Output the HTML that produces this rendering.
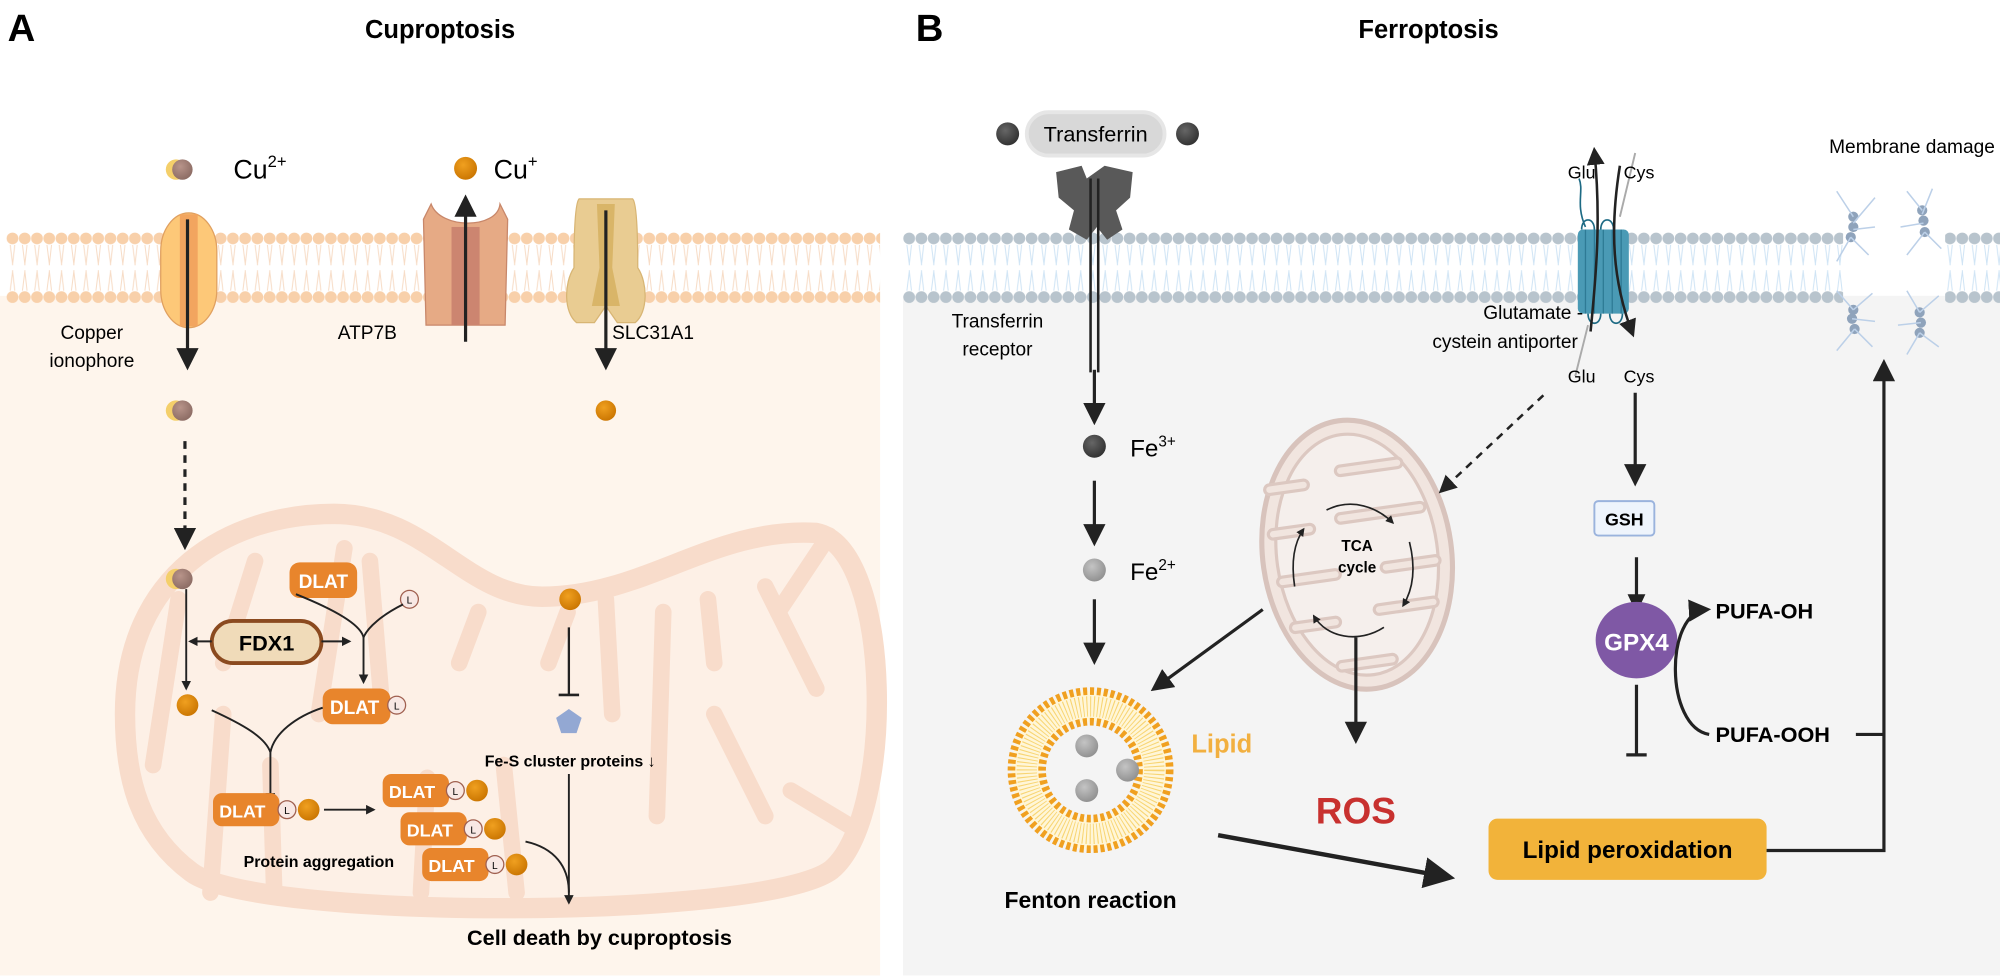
<!DOCTYPE html>
<html><head><meta charset="utf-8"><style>
html,body{margin:0;padding:0;background:#fff;}
svg{display:block;}
text{font-family:"Liberation Sans",sans-serif;}
</style></head><body>
<svg width="2000" height="978" viewBox="0 0 1568 767" preserveAspectRatio="none" xmlns="http://www.w3.org/2000/svg">
<defs>
<pattern id="memA" x="5" y="180" width="9.6" height="60" patternUnits="userSpaceOnUse">
<path d="M3,12 L5,28 M6.6,12 L4.8,28 M3,48 L5,32 M6.6,48 L4.8,32" stroke="#f7dcc6" stroke-width="0.8" fill="none"/>
<circle cx="4.8" cy="7" r="4.6" fill="#f8d0aa"/><circle cx="4.8" cy="53" r="4.6" fill="#f8d0aa"/>
</pattern>
<pattern id="memB" x="708" y="180" width="9.6" height="60" patternUnits="userSpaceOnUse">
<path d="M3,12 L5,28 M6.6,12 L4.8,28 M3,48 L5,32 M6.6,48 L4.8,32" stroke="#cfe4f5" stroke-width="0.8" fill="none"/>
<circle cx="4.8" cy="7" r="4.6" fill="#b8c4cd"/><circle cx="4.8" cy="53" r="4.6" fill="#b8c4cd"/>
</pattern>
<marker id="ah" viewBox="0 0 10 10" refX="8" refY="5" markerWidth="5" markerHeight="5" orient="auto-start-reverse"><path d="M0,0 L10,5 L0,10 z" fill="#222"/></marker>
<marker id="ahs" viewBox="0 0 10 10" refX="8" refY="5" markerWidth="7" markerHeight="7" orient="auto-start-reverse"><path d="M0,0 L10,5 L0,10 z" fill="#222"/></marker>
<radialGradient id="gOr" cx="0.4" cy="0.35" r="0.7"><stop offset="0" stop-color="#f0a020"/><stop offset="1" stop-color="#c97400"/></radialGradient>
<radialGradient id="gBr" cx="0.4" cy="0.35" r="0.7"><stop offset="0" stop-color="#b8948a"/><stop offset="1" stop-color="#8a6a62"/></radialGradient>
<radialGradient id="gDk" cx="0.4" cy="0.35" r="0.7"><stop offset="0" stop-color="#666"/><stop offset="1" stop-color="#2f2f2f"/></radialGradient>
<radialGradient id="gLt" cx="0.4" cy="0.35" r="0.7"><stop offset="0" stop-color="#c4c4c4"/><stop offset="1" stop-color="#8e8e8e"/></radialGradient>
</defs>

<rect x="0" y="232" width="690" height="533" fill="#fef5ec"/>
<rect x="708" y="232" width="860" height="533" fill="#f4f4f4"/>
<rect x="5" y="180" width="685" height="60" fill="url(#memA)"/>
<rect x="708" y="180" width="737" height="60" fill="url(#memB)"/>
<rect x="1525" y="180" width="43" height="60" fill="url(#memB)"/>

<text x="6" y="32" font-size="30" font-weight="bold">A</text>
<text x="345" y="30" font-size="20" font-weight="bold" text-anchor="middle">Cuproptosis</text>
<text x="718" y="32" font-size="30" font-weight="bold">B</text>
<text x="1120" y="30" font-size="20" font-weight="bold" text-anchor="middle">Ferroptosis</text>

<!-- ===== Panel A ===== -->
<g fill="none" stroke="#f8dccb" stroke-linecap="round">
<path d="M98,560 C98,450 180,403 262,403 C335,403 365,468 425,468 C505,468 560,413 640,418 C700,430 702,640 652,682 C600,722 200,722 150,684 C110,654 98,612 98,560 Z" stroke-width="16" fill="#fdf0e6"/>
<g stroke-width="13">
<path d="M120,600 L140,470"/><path d="M165,700 L175,560 M175,520 L200,440"/><path d="M215,700 L212,600"/>
<path d="M250,560 L270,430 M290,440 L300,560"/><path d="M330,700 L335,610"/><path d="M360,520 L375,480"/>
<path d="M405,700 L395,600"/><path d="M430,520 L445,480 M475,470 L480,560"/><path d="M520,480 L515,640"/>
<path d="M555,470 L560,520 M600,460 L640,540"/><path d="M650,420 L610,480"/><path d="M560,560 L600,640"/><path d="M620,620 L670,650"/>
</g></g>

<rect x="126" y="167" width="44" height="90" rx="22" ry="30" fill="#fdc878" stroke="#e0a060" stroke-width="1"/>
<rect x="141" y="168" width="14" height="88" fill="#f2a55f"/>
<path d="M332,172 L338,160 C345,180 390,180 392,160 L398,172 L396,255 L334,255 Z" fill="#e6aa85" stroke="#c8876a" stroke-width="1"/>
<rect x="354" y="178" width="22" height="77" fill="#cc8570"/>
<path d="M454,156 L496,156 C500,160 500,200 500,210 C508,222 508,245 498,253 L484,253 L475,240 L466,253 L452,253 C442,245 442,222 450,210 C450,200 450,160 454,156 Z" fill="#e9cc92" stroke="#d8b574" stroke-width="1"/>
<path d="M468,160 L482,160 L480,210 L486,240 L464,240 L470,210 Z" fill="#d4af5e" opacity="0.8"/>

<line x1="147" y1="172" x2="147" y2="287" stroke="#222" stroke-width="2.5" marker-end="url(#ahs)"/>
<line x1="365" y1="268" x2="365" y2="156" stroke="#222" stroke-width="2.5" marker-end="url(#ahs)"/>
<line x1="475" y1="165" x2="475" y2="287" stroke="#222" stroke-width="2.5" marker-end="url(#ahs)"/>

<circle cx="138" cy="133" r="8" fill="#f4cf6a"/><circle cx="143" cy="133" r="8" fill="url(#gBr)"/>
<text x="183" y="140" font-size="21">Cu<tspan font-size="13" dy="-9">2+</tspan></text>
<circle cx="365" cy="132" r="9" fill="url(#gOr)"/>
<text x="387" y="140" font-size="21">Cu<tspan font-size="13" dy="-9">+</tspan></text>
<text x="72" y="266" font-size="15" text-anchor="middle">Copper</text>
<text x="72" y="288" font-size="15" text-anchor="middle">ionophore</text>
<text x="288" y="266" font-size="15" text-anchor="middle">ATP7B</text>
<text x="512" y="266" font-size="15" text-anchor="middle">SLC31A1</text>

<circle cx="138" cy="322" r="8" fill="#f4cf6a"/><circle cx="143" cy="322" r="8" fill="url(#gBr)"/>
<circle cx="475" cy="322" r="8" fill="url(#gOr)"/>
<line x1="145" y1="346" x2="145" y2="428" stroke="#222" stroke-width="2.5" stroke-dasharray="6,5" marker-end="url(#ahs)"/>

<circle cx="138" cy="454" r="8" fill="#f4cf6a"/><circle cx="143" cy="454" r="8" fill="url(#gBr)"/>
<rect x="227" y="441" width="53" height="28" rx="8" fill="#e8852c"/>
<text x="253.5" y="461" font-size="15" font-weight="bold" fill="#fff" text-anchor="middle">DLAT</text>
<circle cx="321" cy="470" r="7" fill="#f8e8e4" stroke="#a06050" stroke-width="1"/><text x="321" y="473.5" font-size="8" text-anchor="middle">L</text>
<line x1="146" y1="462" x2="146" y2="540" stroke="#222" stroke-width="1.5" marker-end="url(#ah)"/>
<rect x="166" y="487" width="86" height="33" rx="16.5" fill="#f0dbb9" stroke="#8b4a1f" stroke-width="3"/>
<text x="209" y="510" font-size="17" font-weight="bold" text-anchor="middle">FDX1</text>
<line x1="166" y1="503" x2="149" y2="503" stroke="#222" stroke-width="1.5" marker-end="url(#ah)"/>
<line x1="252" y1="503" x2="274" y2="503" stroke="#222" stroke-width="1.5" marker-end="url(#ah)"/>
<path d="M232,466 C262,478 283,490 285,500 M316,474 C300,482 288,492 285,500 L285,535" fill="none" stroke="#222" stroke-width="1.5" marker-end="url(#ah)"/>
<circle cx="147" cy="553" r="8.5" fill="url(#gOr)"/>
<rect x="253" y="540" width="53" height="28" rx="8" fill="#e8852c"/>
<text x="278" y="560" font-size="15" font-weight="bold" fill="#fff" text-anchor="middle">DLAT</text>
<circle cx="311" cy="553" r="7" fill="#f8e8e4" stroke="#a06050" stroke-width="1"/><text x="311" y="556.5" font-size="8" text-anchor="middle">L</text>
<path d="M166,557 C190,568 208,578 212,590 M253,555 C232,562 215,575 212,590 L212,628" fill="none" stroke="#222" stroke-width="1.5" marker-end="url(#ah)"/>

<circle cx="447" cy="470" r="8.5" fill="url(#gOr)"/>
<line x1="446" y1="492" x2="446" y2="545" stroke="#222" stroke-width="1.8"/>
<line x1="438" y1="545" x2="454" y2="545" stroke="#222" stroke-width="2"/>
<path d="M446,556 L456,563 L452,575 L440,575 L436,563 Z" fill="#93a8d3"/>
<text x="380" y="601" font-size="12.5" font-weight="bold">Fe-S cluster proteins ↓</text>

<rect x="167" y="622" width="52" height="26" rx="7" fill="#e8852c"/><text x="190" y="641" font-size="14" font-weight="bold" fill="#fff" text-anchor="middle">DLAT</text>
<circle cx="225" cy="635" r="7" fill="#f8e8e4" stroke="#a06050"/><text x="225" y="638.5" font-size="8" text-anchor="middle">L</text>
<circle cx="242" cy="635" r="8.5" fill="url(#gOr)"/>
<line x1="254" y1="635" x2="293" y2="635" stroke="#222" stroke-width="1.5" marker-end="url(#ah)"/>
<text x="250" y="680" font-size="12.5" font-weight="bold" text-anchor="middle">Protein aggregation</text>
<rect x="300" y="607" width="52" height="26" rx="7" fill="#e8852c"/><text x="323" y="626" font-size="14" font-weight="bold" fill="#fff" text-anchor="middle">DLAT</text>
<circle cx="357" cy="620" r="7" fill="#f8e8e4" stroke="#a06050"/><text x="357" y="623.5" font-size="8" text-anchor="middle">L</text>
<circle cx="374" cy="620" r="8.5" fill="url(#gOr)"/>
<rect x="314" y="637" width="52" height="26" rx="7" fill="#e8852c"/><text x="337" y="656" font-size="14" font-weight="bold" fill="#fff" text-anchor="middle">DLAT</text>
<circle cx="371" cy="650" r="7" fill="#f8e8e4" stroke="#a06050"/><text x="371" y="653.5" font-size="8" text-anchor="middle">L</text>
<circle cx="388" cy="650" r="8.5" fill="url(#gOr)"/>
<rect x="331" y="665" width="52" height="26" rx="7" fill="#e8852c"/><text x="354" y="684" font-size="14" font-weight="bold" fill="#fff" text-anchor="middle">DLAT</text>
<circle cx="388" cy="678" r="7" fill="#f8e8e4" stroke="#a06050"/><text x="388" y="681.5" font-size="8" text-anchor="middle">L</text>
<circle cx="405" cy="678" r="8.5" fill="url(#gOr)"/>
<path d="M446,607 L446,708" fill="none" stroke="#222" stroke-width="1.5" marker-end="url(#ah)"/>
<path d="M412,660 C435,665 446,680 446,700" fill="none" stroke="#222" stroke-width="1.5"/>
<text x="470" y="741" font-size="17" font-weight="bold" text-anchor="middle">Cell death by cuproptosis</text>

<!-- ===== Panel B ===== -->
<rect x="805" y="88" width="108" height="34" rx="17" fill="#d8d8d8" stroke="#e6e6e6" stroke-width="3"/>
<text x="859" y="111" font-size="17" text-anchor="middle">Transferrin</text>
<circle cx="790" cy="105" r="9" fill="url(#gDk)"/><circle cx="931" cy="105" r="9" fill="url(#gDk)"/>
<path d="M828,135 L848,130 L852,140 L866,130 L888,135 L886,155 L875,165 L880,180 L868,188 L860,178 L852,188 L838,180 L842,165 L830,155 Z" fill="#595959"/>
<path d="M855,140 L855,292 M861,140 L861,292" stroke="#222" stroke-width="2"/>
<text x="782" y="257" font-size="15" text-anchor="middle">Transferrin</text>
<text x="782" y="279" font-size="15" text-anchor="middle">receptor</text>
<line x1="858" y1="290" x2="858" y2="330" stroke="#222" stroke-width="2.5" marker-end="url(#ahs)"/>
<circle cx="858" cy="350" r="9" fill="url(#gDk)"/>
<text x="886" y="358" font-size="19">Fe<tspan font-size="12" dy="-8">3+</tspan></text>
<line x1="858" y1="377" x2="858" y2="425" stroke="#222" stroke-width="2.5" marker-end="url(#ahs)"/>
<circle cx="858" cy="447" r="9" fill="url(#gLt)"/>
<text x="886" y="455" font-size="19">Fe<tspan font-size="12" dy="-8">2+</tspan></text>
<line x1="858" y1="470" x2="858" y2="518" stroke="#222" stroke-width="2.5" marker-end="url(#ahs)"/>

<circle cx="855" cy="604" r="62" fill="#fff6d8" stroke="#f0a020" stroke-width="6" stroke-dasharray="3.2,2.2"/>
<circle cx="855" cy="604" r="50" fill="none" stroke="#f5c848" stroke-width="16" stroke-dasharray="0.8,2" opacity="0.7"/>
<circle cx="855" cy="604" r="38" fill="#f4f4f4" stroke="#f0a020" stroke-width="6" stroke-dasharray="3.2,2.2"/>
<circle cx="852" cy="585" r="9" fill="url(#gLt)"/><circle cx="884" cy="604" r="9" fill="url(#gLt)"/><circle cx="852" cy="620" r="9" fill="url(#gLt)"/>
<text x="934" y="590" font-size="20" font-weight="bold" fill="#f2b040">Lipid</text>
<text x="855" y="712" font-size="18" font-weight="bold" text-anchor="middle">Fenton reaction</text>
<line x1="955" y1="655" x2="1136" y2="688" stroke="#222" stroke-width="3.5" marker-end="url(#ahs)"/>

<!-- small mitochondrion -->
<g transform="rotate(-8 1064 435)">
<ellipse cx="1064" cy="435" rx="74" ry="106" fill="#f1e5df" stroke="#d8c3bc" stroke-width="4"/>
<ellipse cx="1064" cy="435" rx="63" ry="95" fill="#f5efec" stroke="#dcc8c1" stroke-width="2.5"/>
<g fill="none" stroke-linecap="round">
<g stroke="#dcc8c1" stroke-width="10">
<path d="M1003,375 L1030,375"/><path d="M1060,368 L1105,368"/><path d="M1001,410 L1030,410"/>
<path d="M1055,405 L1118,405"/><path d="M1003,448 L1045,448"/><path d="M1085,448 L1124,448"/>
<path d="M1008,485 L1040,485"/><path d="M1075,480 L1118,480"/><path d="M1040,520 L1080,520"/>
</g>
<g stroke="#f1e5df" stroke-width="5">
<path d="M1003,375 L1030,375"/><path d="M1060,368 L1105,368"/><path d="M1001,410 L1030,410"/>
<path d="M1055,405 L1118,405"/><path d="M1003,448 L1045,448"/><path d="M1085,448 L1124,448"/>
<path d="M1008,485 L1040,485"/><path d="M1075,480 L1118,480"/><path d="M1040,520 L1080,520"/>
</g></g></g>
<g fill="none" stroke="#222" stroke-width="1.3">
<path d="M1040,400 C1060,390 1080,398 1092,410" marker-end="url(#ah)"/>
<path d="M1105,425 C1110,445 1108,462 1100,475" marker-end="url(#ah)"/>
<path d="M1085,492 C1065,505 1040,500 1030,483" marker-end="url(#ah)"/>
<path d="M1015,460 C1012,440 1015,425 1022,415" marker-end="url(#ah)"/>
</g>
<text x="1064" y="432" font-size="12" font-weight="bold" text-anchor="middle">TCA</text>
<text x="1064" y="449" font-size="12" font-weight="bold" text-anchor="middle">cycle</text>
<line x1="990" y1="478" x2="905" y2="540" stroke="#222" stroke-width="2.5" marker-end="url(#ahs)"/>
<line x1="1063" y1="500" x2="1063" y2="580" stroke="#222" stroke-width="2.5" marker-end="url(#ahs)"/>
<text x="1063" y="646" font-size="29" font-weight="bold" fill="#c8312f" text-anchor="middle">ROS</text>
<line x1="1210" y1="310" x2="1130" y2="385" stroke="#222" stroke-width="2" stroke-dasharray="6,5" marker-end="url(#ahs)"/>

<!-- antiporter -->
<rect x="1237" y="180" width="40" height="66" rx="4" fill="#4a9ab5"/>
<path d="M1243,180 L1243,246 M1250,180 L1250,246 M1257,180 L1257,246 M1264,180 L1264,246 M1271,180 L1271,246" stroke="#2e7a95" stroke-width="1"/>
<path d="M1240,180 C1240,170 1250,170 1250,180 M1255,180 C1255,170 1265,170 1265,180 M1245,246 C1245,256 1255,256 1255,246 M1262,246 C1262,256 1272,256 1272,246 M1243,178 C1235,160 1242,150 1238,140" fill="none" stroke="#1d6a84" stroke-width="1.3"/>
<path d="M1247,260 C1252,210 1255,170 1250,118" fill="none" stroke="#222" stroke-width="2" marker-end="url(#ahs)"/>
<path d="M1270,130 C1262,180 1264,220 1280,262" fill="none" stroke="#222" stroke-width="2" marker-end="url(#ahs)"/>
<path d="M1282,120 L1270,170" stroke="#aaa" stroke-width="1.5"/>
<path d="M1245,255 L1235,295" stroke="#aaa" stroke-width="1.5"/>
<text x="1240" y="140" font-size="14" text-anchor="middle">Glu</text>
<text x="1285" y="140" font-size="14" text-anchor="middle">Cys</text>
<text x="1240" y="300" font-size="14" text-anchor="middle">Glu</text>
<text x="1285" y="300" font-size="14" text-anchor="middle">Cys</text>
<text x="1202" y="250" font-size="15" text-anchor="middle">Glutamate -</text>
<text x="1180" y="273" font-size="15" text-anchor="middle">cystein antiporter</text>

<line x1="1282" y1="308" x2="1282" y2="378" stroke="#222" stroke-width="2.5" marker-end="url(#ahs)"/>
<rect x="1250" y="393" width="47" height="27" rx="3" fill="#eef4fc" stroke="#9ab3dd" stroke-width="1.5"/>
<text x="1273.5" y="412" font-size="14" font-weight="bold" text-anchor="middle">GSH</text>
<line x1="1283" y1="437" x2="1283" y2="488" stroke="#222" stroke-width="2.5"/>
<path d="M1276,466 L1290,466 L1283,481 Z" fill="#222"/>
<ellipse cx="1283" cy="502" rx="32" ry="30" fill="#7f58a5"/>
<text x="1283" y="510" font-size="19" font-weight="bold" fill="#fff" text-anchor="middle">GPX4</text>
<path d="M1340,576 C1305,570 1305,480 1338,478" fill="none" stroke="#222" stroke-width="2.5" marker-end="url(#ahs)"/>
<text x="1345" y="485" font-size="17" font-weight="bold">PUFA-OH</text>
<text x="1345" y="582" font-size="17" font-weight="bold">PUFA-OOH</text>
<line x1="1283" y1="537" x2="1283" y2="592" stroke="#222" stroke-width="2.5"/>
<line x1="1275" y1="592" x2="1291" y2="592" stroke="#222" stroke-width="2.5"/>
<rect x="1167" y="642" width="218" height="48" rx="7" fill="#f2b33a"/>
<text x="1276" y="673" font-size="19" font-weight="bold" text-anchor="middle">Lipid peroxidation</text>
<path d="M1385,667 L1477,667 L1477,285" fill="none" stroke="#222" stroke-width="2.5" marker-end="url(#ahs)"/>
<line x1="1455" y1="576" x2="1477" y2="576" stroke="#222" stroke-width="2.5"/>

<!-- membrane damage -->
<text x="1564" y="120" font-size="15" text-anchor="end">Membrane damage</text>
<g fill="#8fa3bb">
<circle cx="1453" cy="170" r="4"/><circle cx="1453" cy="178" r="4"/><circle cx="1451" cy="186" r="4"/>
<circle cx="1507" cy="165" r="4"/><circle cx="1508" cy="173" r="4"/><circle cx="1509" cy="182" r="4"/>
<circle cx="1453" cy="243" r="4"/><circle cx="1452" cy="250" r="4"/><circle cx="1454" cy="258" r="4"/>
<circle cx="1505" cy="245" r="4"/><circle cx="1506" cy="253" r="4"/><circle cx="1505" cy="261" r="4"/>
</g>
<g stroke="#bcd0e8" stroke-width="1.2" fill="none">
<path d="M1453,170 L1440,150 M1453,175 L1470,155 M1453,180 L1470,178 M1451,186 L1440,205 M1451,186 L1465,200"/>
<path d="M1507,165 L1495,150 M1507,168 L1515,148 M1508,175 L1490,178 M1509,182 L1495,200 M1509,182 L1522,195"/>
<path d="M1453,243 L1440,228 M1453,243 L1468,230 M1452,250 L1470,252 M1454,258 L1440,275 M1454,258 L1468,272"/>
<path d="M1505,245 L1495,228 M1505,245 L1520,232 M1506,253 L1488,255 M1505,261 L1495,278 M1505,261 L1520,272"/>
</g>
</svg>
</body></html>
